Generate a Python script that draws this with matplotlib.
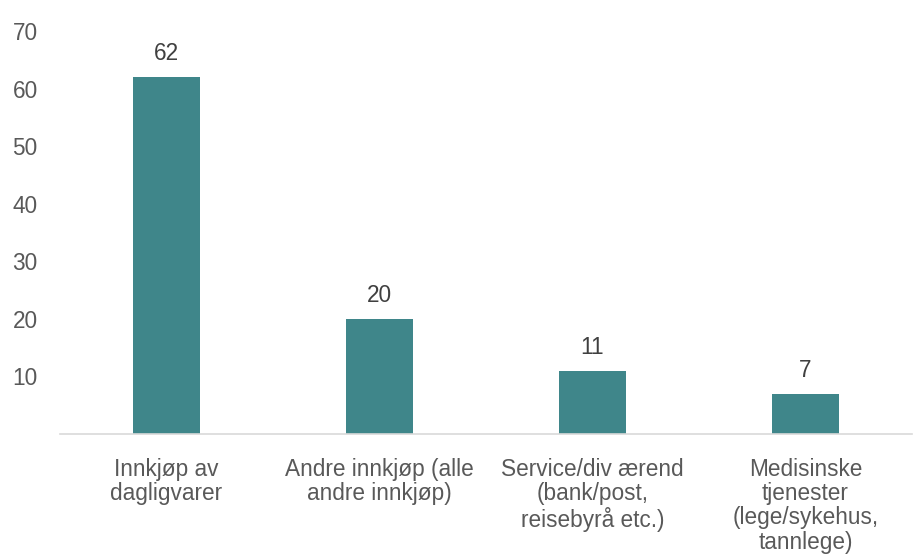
import matplotlib
matplotlib.use("Agg")
import matplotlib.pyplot as plt

categories = ["Innkjøp av\ndagligvarer", "Andre innkjøp (alle\nandre innkjøp)",
              "Service/div ærend\n(bank/post,\nreisebyrå etc.)",
              "Medisinske\ntjenester\n(lege/sykehus,\ntannlege)"]
values = [62, 20, 11, 7]
yticks = [10, 20, 30, 40, 50, 60, 70]

plt.rcParams['font.family'] = ['Liberation Sans', 'DejaVu Sans']
FS = 16.3

fig = plt.figure(figsize=(9.14, 5.56), dpi=100)
ax = fig.add_axes([60/914, 1-434/556, 852/914, (434-31)/556])
x = range(len(categories))
ax.bar(x, values, width=0.315, color="#3F868A", zorder=2)
for xi, v in zip(x, values):
    ax.text(xi, v + 2.1, str(v), ha="center", va="bottom", fontsize=FS, color="#404040")
ax.set_xlim(-0.5, len(categories) - 0.5)
ax.set_ylim(0, 70)
ax.set_yticks(yticks)
ax.set_yticklabels([str(t) for t in yticks], fontsize=FS, color="#595959")
ax.set_xticks(list(x))
ax.set_xticklabels(categories, fontsize=FS, color="#595959", linespacing=1.08)
ax.tick_params(axis="both", length=0)
ax.tick_params(axis="y", pad=16)
ax.tick_params(axis="x", pad=17)
for s in ["top", "right", "left"]:
    ax.spines[s].set_visible(False)
ax.spines["bottom"].set_color("#D9D9D9")
ax.spines["bottom"].set_linewidth(1.2)
fig.savefig("out.png", dpi=100)
